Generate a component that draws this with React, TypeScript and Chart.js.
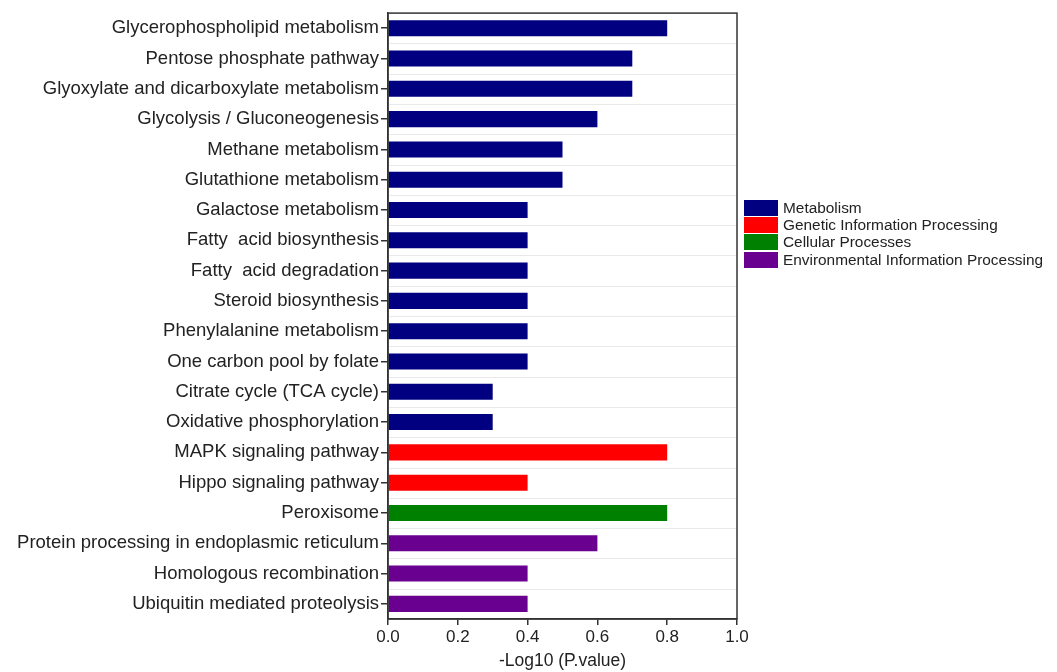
import React, { useEffect, useRef } from "react";
import { Chart, registerables } from "chart.js";
Chart.register(...registerables);

const categories = [
  "Glycerophospholipid metabolism",
  "Pentose phosphate pathway",
  "Glyoxylate and dicarboxylate metabolism",
  "Glycolysis / Gluconeogenesis",
  "Methane metabolism",
  "Glutathione metabolism",
  "Galactose metabolism",
  "Fatty  acid biosynthesis",
  "Fatty  acid degradation",
  "Steroid biosynthesis",
  "Phenylalanine metabolism",
  "One carbon pool by folate",
  "Citrate cycle (TCA cycle)",
  "Oxidative phosphorylation",
  "MAPK signaling pathway",
  "Hippo signaling pathway",
  "Peroxisome",
  "Protein processing in endoplasmic reticulum",
  "Homologous recombination",
  "Ubiquitin mediated proteolysis",
];
const values = [0.8, 0.7, 0.7, 0.6, 0.5, 0.5, 0.4, 0.4, 0.4, 0.4, 0.4, 0.4, 0.3, 0.3, 0.8, 0.4, 0.8, 0.6, 0.4, 0.4];
const groupIndex = [0, 0, 0, 0, 0, 0, 0, 0, 0, 0, 0, 0, 0, 0, 1, 1, 2, 3, 3, 3];
const groupNames = [
  "Metabolism",
  "Genetic Information Processing",
  "Cellular Processes",
  "Environmental Information Processing",
];
const groupColors = ["#000080", "#ff0000", "#008000", "#6a0090"];
const xTicks = [0, 0.2, 0.4, 0.6, 0.8, 1.0];

const FONT = "'Liberation Sans', Arial, sans-serif";

const framePlugin = {
  id: "frame",
  beforeDatasetsDraw(chart: any) {
    const { ctx, chartArea } = chart;
    const y = chart.scales.y;
    ctx.save();
    ctx.strokeStyle = "rgba(200,200,200,0.4)";
    ctx.lineWidth = 1;
    for (let i = 1; i < categories.length; i++) {
      const yy = Math.round((y.getPixelForValue(i - 1) + y.getPixelForValue(i)) / 2) + 0.5;
      ctx.beginPath();
      ctx.moveTo(chartArea.left, yy);
      ctx.lineTo(chartArea.right, yy);
      ctx.stroke();
    }
    ctx.restore();
  },
  afterDraw(chart: any) {
    const { ctx, chartArea } = chart;
    ctx.save();
    ctx.strokeStyle = "#333";
    ctx.lineWidth = 1.5;
    ctx.strokeRect(chartArea.left, chartArea.top, chartArea.right - chartArea.left, chartArea.bottom - chartArea.top);
    ctx.restore();
  },
};

export default function App() {
  const ref = useRef<HTMLCanvasElement>(null);
  useEffect(() => {
    const chart = new Chart(ref.current!, {
      type: "bar",
      data: {
        labels: categories,
        datasets: [
          {
            data: values,
            backgroundColor: values.map((_, i) => groupColors[groupIndex[i]]),
            barPercentage: 0.53,
            categoryPercentage: 1,
          },
        ],
      },
      options: {
        indexAxis: "y",
        animation: false,
        responsive: false,
        layout: { padding: { top: 11, right: 320, left: 0, bottom: 0 } },
        plugins: { legend: { display: false }, tooltip: { enabled: false } },
        scales: {
          x: {
            min: 0,
            max: 1,
            afterBuildTicks: (s: any) => {
              s.ticks = xTicks.map((v) => ({ value: v }));
            },
            afterFit: (s: any) => {
              s.height = 53;
            },
            ticks: {
              callback: (v: any) => Number(v).toFixed(1),
              color: "#222",
              font: { family: FONT, size: 17 },
              padding: 2,
            },
            grid: { drawOnChartArea: false, tickLength: 6, color: "#333", lineWidth: 1.5 },
            border: { color: "#333", width: 1.5 },
            title: {
              display: true,
              text: "-Log10 (P.value)",
              color: "#222",
              font: { family: FONT, size: 17.5 },
              padding: { top: 2, bottom: 0 },
            },
          },
          y: {
            afterFit: (s: any) => {
              s.width = 388;
            },
            ticks: {
              color: "#222",
              font: { family: FONT, size: 18.5 },
              padding: 2,
              autoSkip: false,
            },
            grid: { drawOnChartArea: false, offset: false, tickLength: 7, color: "#333", lineWidth: 1.5 },
            border: { color: "#333", width: 1.5 },
          },
        },
      },
      plugins: [framePlugin],
    });
    return () => chart.destroy();
  }, []);
  return (
    <div style={{ position: "absolute", left: 0, top: 0, width: 1057, height: 672, background: "#fff" }}>
      <canvas ref={ref} width={1057} height={672} style={{ display: "block" }} />
      <div style={{ position: "absolute", left: 744, top: 199, fontFamily: FONT, fontSize: 15.4, color: "#222" }}>
        {groupNames.map((name, i) => (
          <div key={name} style={{ display: "flex", alignItems: "center", height: 17.3 }}>
            <div style={{ width: 34, height: 16, background: groupColors[i], marginRight: 5, flexShrink: 0 }} />
            <span style={{ whiteSpace: "nowrap" }}>{name}</span>
          </div>
        ))}
      </div>
    </div>
  );
}
